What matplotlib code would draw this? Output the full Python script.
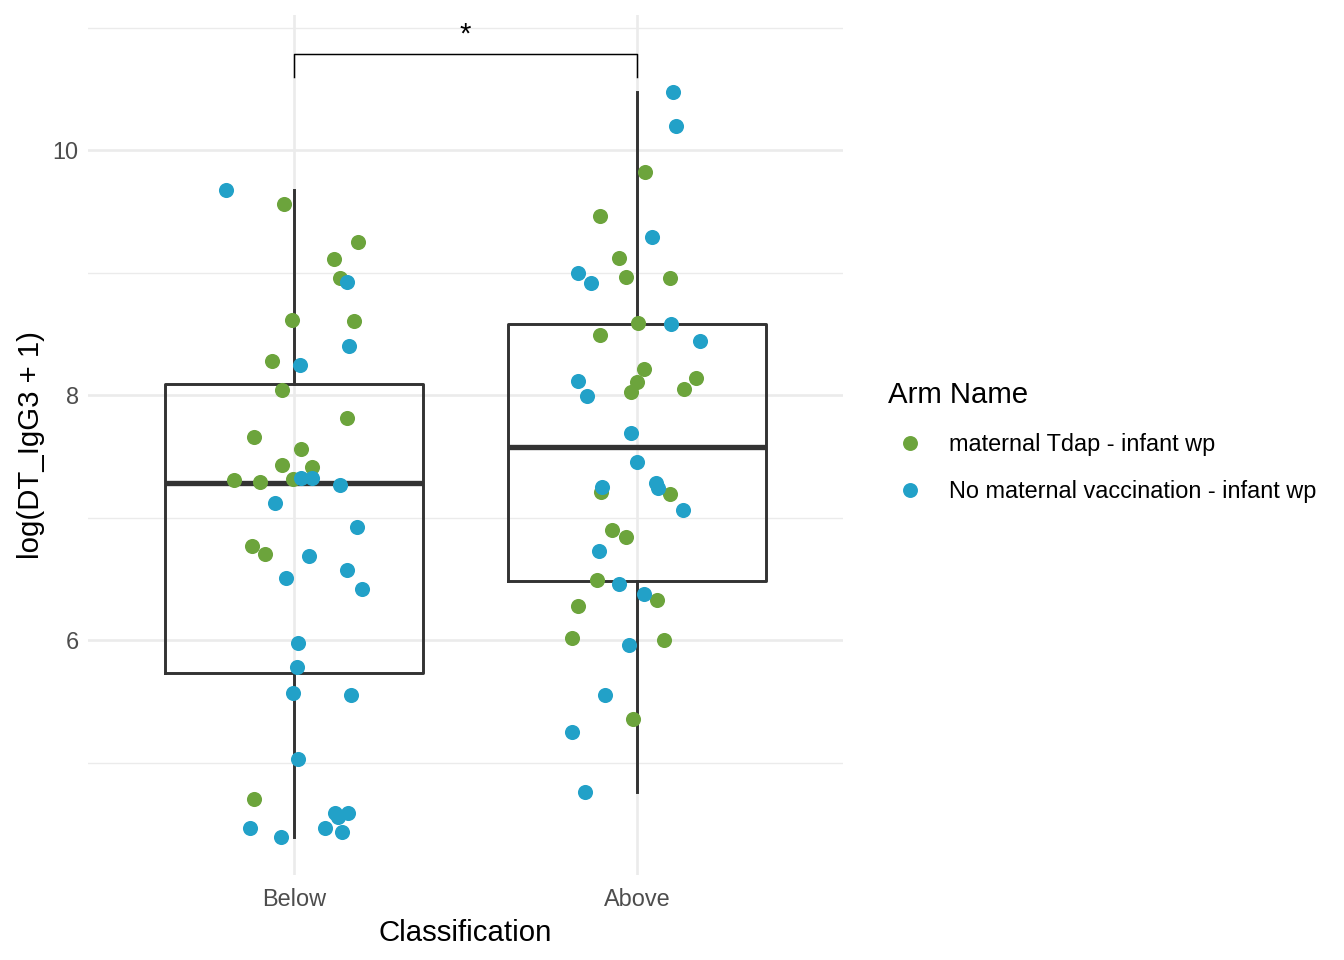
import numpy as np
import matplotlib.pyplot as plt
from matplotlib.lines import Line2D

plt.rcParams['font.family'] = ['Liberation Sans', 'DejaVu Sans']

# Categorias y grupos
categorias = ['Below', 'Above']
brazos = ['maternal Tdap - infant wp', 'No maternal vaccination - infant wp']
colores = ['#6CA43C', '#22A1C8']

# Valores: log(DT_IgG3 + 1)
below_tdap = [9.565, 9.25, 9.116, 8.958, 8.612, 8.607, 8.278, 8.046, 7.812, 7.655,
              7.562, 7.434, 7.415, 7.306, 7.295, 7.32, 6.77, 6.702, 4.702]
below_tdap_jit = [-0.028, 0.186, 0.117, 0.133, -0.007, 0.175, -0.063, -0.036, 0.156, -0.115,
                  0.021, -0.034, 0.053, -0.175, -0.098, -0.002, -0.121, -0.084, -0.117]
below_none = [9.68, 8.925, 8.40, 8.245, 7.328, 7.328, 7.27, 7.116, 6.925, 6.688,
              6.571, 6.509, 6.419, 5.978, 5.782, 5.57, 5.556, 5.026, 4.585, 4.588,
              4.463, 4.43, 4.465, 4.395, 4.56]
below_none_jit = [-0.199, 0.156, 0.160, 0.017, 0.020, 0.052, 0.135, -0.055, 0.184, 0.044,
                  0.154, -0.022, 0.199, 0.012, 0.010, -0.002, 0.167, 0.013, 0.119, 0.158,
                  0.092, 0.140, -0.129, -0.038, 0.128]
above_tdap = [9.823, 9.464, 9.118, 8.966, 8.955, 8.588, 8.495, 8.218, 8.141, 8.111,
              8.049, 8.03, 7.21, 7.192, 6.898, 6.846, 6.495, 6.324, 6.278, 6.014,
              6.003, 5.36]
above_tdap_jit = [0.022, -0.108, -0.052, -0.033, 0.096, 0.003, -0.107, 0.019, 0.171, 0.000,
                  0.136, -0.019, -0.105, 0.097, -0.074, -0.031, -0.118, 0.057, -0.172, -0.191,
                  0.079, -0.011]
above_none = [10.48, 10.20, 9.29, 9.0, 8.92, 8.585, 8.44, 8.114, 7.992, 7.695,
              7.453, 7.25, 7.284, 7.246, 7.059, 6.729, 6.46, 6.378, 5.957, 5.556,
              5.249, 4.759]
above_none_jit = [0.105, 0.113, 0.044, -0.172, -0.135, 0.100, 0.183, -0.172, -0.147, -0.018,
                  -0.001, -0.101, 0.056, 0.060, 0.133, -0.110, -0.054, 0.021, -0.023, -0.092,
                  -0.190, -0.153]

# Anotacion de significancia
signif = '*'
signif_y = 10.79

fig = plt.figure(figsize=(7, 5), dpi=192)
ax = fig.add_axes([0.0655, 0.0885, 0.5617, 0.8955])

# Cajas
datos_caja = [below_tdap + below_none, above_tdap + above_none]
estilo = dict(color='#333333', lw=1.1)
ax.boxplot(datos_caja, positions=[1, 2], widths=0.75, showcaps=False, showfliers=False,
           boxprops=estilo, whiskerprops=estilo,
           medianprops=dict(color='#333333', lw=2.0), zorder=2)

# Puntos con jitter
ax.scatter(1 + np.array(below_tdap_jit), below_tdap, s=32, color=colores[0], lw=0, zorder=3)
ax.scatter(2 + np.array(above_tdap_jit), above_tdap, s=32, color=colores[0], lw=0, zorder=3)
ax.scatter(1 + np.array(below_none_jit), below_none, s=32, color=colores[1], lw=0, zorder=4)
ax.scatter(2 + np.array(above_none_jit), above_none, s=32, color=colores[1], lw=0, zorder=4)

# Corchete de significancia
ax.plot([1, 1, 2, 2], [signif_y - 0.19, signif_y, signif_y, signif_y - 0.19],
        color='black', lw=0.55, zorder=5)
ax.text(1.5, signif_y + 0.04, signif, ha='center', va='bottom', fontsize=11, zorder=5)

# Cuadricula estilo theme_minimal
ax.set_xlim(0.4, 2.6)
ax.set_ylim(4.082, 11.102)
ax.set_yticks([6, 8, 10])
ax.set_yticks([5, 7, 9, 11], minor=True)
ax.set_xticks([1, 2])
ax.set_xticklabels(categorias)
ax.grid(True, which='major', color='#EBEBEB', lw=1.0, zorder=0)
ax.grid(True, which='minor', axis='y', color='#EBEBEB', lw=0.5, zorder=0)
ax.set_axisbelow(True)
for s in ax.spines.values():
    s.set_visible(False)
ax.tick_params(which='both', length=0, labelsize=8.8, labelcolor='#4D4D4D')
ax.tick_params(axis='x', pad=5)

ax.set_xlabel('Classification', fontsize=11, labelpad=3)
ax.set_ylabel('log(DT_IgG3 + 1)', fontsize=11, labelpad=3)

# Leyenda
handles = [Line2D([], [], ls='none', marker='o', ms=5.6, color=c, mec='none') for c in colores]
leg = fig.legend(handles, brazos, title='Arm Name', loc='upper left',
                 bbox_to_anchor=(0.661, 0.603), frameon=False, fontsize=8.8,
                 title_fontsize=11, alignment='left', handlelength=1.8,
                 handletextpad=0.77, labelspacing=1.02, borderpad=0, borderaxespad=0)

fig.savefig('out.png', dpi=192)
